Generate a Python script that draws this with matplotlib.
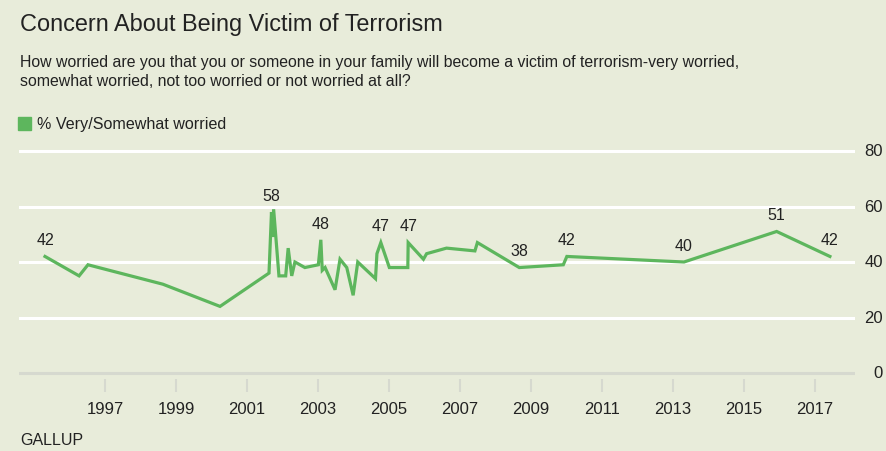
import matplotlib
matplotlib.use('Agg')
from matplotlib import pyplot as plt
from matplotlib import transforms

# survey dates (decimal year) and % very/somewhat worried
years = [1995.31, 1996.27, 1996.52, 1998.63, 2000.24, 2001.62, 2001.69, 2001.72,
         2001.75, 2001.90, 2002.09, 2002.16, 2002.26, 2002.35, 2002.63, 2003.01,
         2003.08, 2003.12, 2003.20, 2003.48, 2003.62, 2003.81, 2003.99, 2004.12,
         2004.62, 2004.66, 2004.77, 2005.01, 2005.53, 2005.54, 2005.97, 2006.06,
         2006.62, 2007.42, 2007.49, 2008.67, 2009.91, 2010.01, 2013.31, 2015.92,
         2017.42]
worried = [42, 35, 39, 32, 24, 36, 58, 49,
           59, 35, 35, 45, 35, 40, 38, 39,
           48, 37, 38, 30, 41, 38, 28, 40,
           34, 43, 47, 38, 38, 47, 41, 43,
           45, 44, 47, 38, 39, 42, 40, 51,
           42]

# points that get a value label
labelled = [0, 6, 16, 26, 29, 35, 37, 38, 39, 40]

xticks = list(range(1997, 2018, 2))
yticks = [0, 20, 40, 60, 80]

bg = '#e8ecda'
green = '#5db65d'
ink = '#222222'
W, H = 887, 452

fig = plt.figure(figsize=(W / 100, H / 100), dpi=100, facecolor=bg)
plt.rcParams['font.family'] = ['Liberation Sans', 'DejaVu Sans']

# plot area in pixels
left, right = 19, 855
ylo, yhi = -2, 82
ppu = (374 - 152) / 80
bottom_px = 374 + 2 * ppu
top_px = 374 - 82 * ppu
ax = fig.add_axes([left / W, 1 - bottom_px / H, (right - left) / W, (bottom_px - top_px) / H])
ax.set_facecolor(bg)
for s in ax.spines.values():
    s.set_visible(False)

ax.set_xlim(1997 + (left - 105) / 35.5, 1997 + (right - 105) / 35.5)
ax.set_ylim(ylo, yhi)

for v in yticks[1:]:
    ax.axhline(v, color='white', lw=2.2, zorder=1)
ax.axhline(0, color='#d6d9cf', lw=2.2, zorder=1)

ax.plot(years, worried, color=green, lw=2.3, solid_joinstyle='miter', zorder=3)

for i in labelled:
    ax.annotate(str(worried[i]), (years[i], worried[i]), xytext=(0, 12),
                textcoords='offset points', ha='center', va='center',
                fontsize=11.5, color=ink)

ax.set_xticks(xticks)
ax.set_xticklabels([str(y) for y in xticks], fontsize=12, color=ink)
ax.tick_params(axis='x', length=9, width=1.5, color='#d6d9cf', pad=7,
               direction='out')
ax.tick_params(axis='y', length=0, labelleft=False)
ax.set_yticks([])

# value axis labels on the right, right aligned
tr = transforms.blended_transform_factory(ax.transAxes, ax.transData)
for v in yticks:
    ax.annotate(str(v), (1, v), xycoords=tr, xytext=(20, 0),
                textcoords='offset points', ha='right', va='center',
                fontsize=12, color=ink, annotation_clip=False)

fig.text(20 / W, 1 - 25 / H, 'Concern About Being Victim of Terrorism',
         fontsize=16.9, color=ink, va='center', ha='left')
fig.text(20 / W, 1 - 63 / H,
         'How worried are you that you or someone in your family will become a victim of terrorism-very worried,',
         fontsize=11.4, color=ink, va='center', ha='left')
fig.text(20 / W, 1 - 82 / H,
         'somewhat worried, not too worried or not worried at all?',
         fontsize=11.4, color=ink, va='center', ha='left')

# legend
fig.patches.append(plt.Rectangle((18 / W, 1 - 131 / H), 13 / W, 13 / H,
                                 transform=fig.transFigure, color=green))
fig.text(37 / W, 1 - 124 / H, '% Very/Somewhat worried',
         fontsize=11.6, color=ink, va='center', ha='left')

fig.text(20 / W, 1 - 441 / H, 'GALLUP', fontsize=11.5, color=ink,
         va='center', ha='left')

fig.savefig('out.png', dpi=100, facecolor=bg)
